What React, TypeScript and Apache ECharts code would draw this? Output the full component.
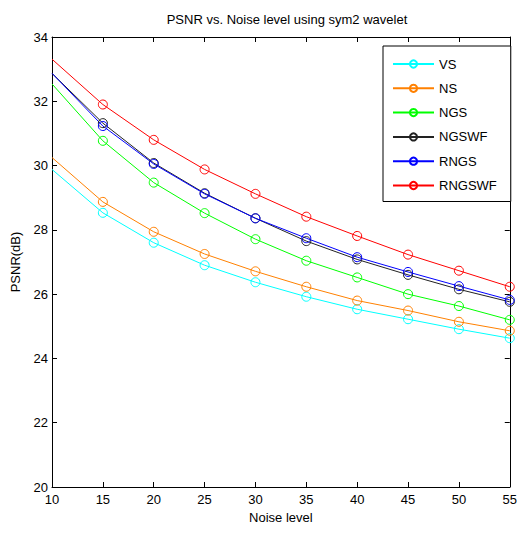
import React, { useEffect, useRef } from "react";
import * as echarts from "echarts";

const noiseLevels = [10, 15, 20, 25, 30, 35, 40, 45, 50, 55];
const seriesNames = ["VS", "NS", "NGS", "NGSWF", "RNGS", "RNGSWF"];
const vsValues = [29.88, 28.53, 27.6, 26.9, 26.37, 25.92, 25.53, 25.22, 24.91, 24.63];
const nsValues = [30.25, 28.87, 27.94, 27.25, 26.71, 26.23, 25.8, 25.49, 25.14, 24.86];
const ngsValues = [32.54, 30.77, 29.47, 28.52, 27.71, 27.04, 26.52, 26.0, 25.63, 25.2];
const ngswfValues = [32.87, 31.32, 30.08, 29.14, 28.36, 27.65, 27.08, 26.6, 26.15, 25.76];
const rngsValues = [32.87, 31.23, 30.05, 29.12, 28.36, 27.74, 27.15, 26.69, 26.25, 25.82];
const rngswfValues = [33.31, 31.9, 30.8, 29.88, 29.12, 28.41, 27.81, 27.23, 26.73, 26.23];
const seriesColors = ["#00ffff", "#ff8000", "#00ff00", "#222222", "#0000ff", "#ff0000"];
const xTicks = { min: 10, max: 55, interval: 5 };
const yTicks = { min: 20, max: 34, interval: 2 };

const allValues = [vsValues, nsValues, ngsValues, ngswfValues, rngsValues, rngswfValues];
const FONT = "'Liberation Sans Narrow', 'Liberation Sans', Arial, sans-serif";

export default function App() {
  const ref = useRef<HTMLDivElement>(null);
  useEffect(() => {
    if (!ref.current) return;
    const chart = echarts.init(ref.current, null, { renderer: "svg" });
    const axisCommon = {
      axisLine: { show: true, lineStyle: { color: "#000", width: 1 } },
      axisTick: { show: true, inside: true, length: 5, lineStyle: { color: "#000" } },
      splitLine: { show: false },
    };
    chart.setOption({
      animation: false,
      backgroundColor: "#fff",
      textStyle: { fontFamily: FONT },
      title: {
        text: "PSNR vs. Noise level using sym2 wavelet",
        left: 282,
        textAlign: "center",
        top: 8,
        textStyle: { fontSize: 13, fontWeight: "normal", color: "#000", fontFamily: FONT },
      },
      grid: { left: 52, right: 8, top: 37, bottom: 47, show: false },
      legend: {
        orient: "vertical",
        left: 383,
        top: 46,
        padding: [11, 14, 9, 9],
        itemGap: 10.3,
        itemWidth: 41,
        itemHeight: 9,
        borderColor: "#000",
        borderWidth: 1,
        backgroundColor: "#fff",
        data: seriesNames,
        textStyle: { fontSize: 13, color: "#000", fontFamily: FONT, lineHeight: 14 },
      },
      xAxis: [
        {
          type: "value",
          ...xTicks,
          position: "bottom",
          ...axisCommon,
          name: "Noise level",
          nameLocation: "middle",
          nameGap: 24,
          nameTextStyle: { fontSize: 13, color: "#000", fontFamily: FONT },
          axisLabel: { color: "#000", fontSize: 13, margin: 6, fontFamily: FONT },
        },
        {
          type: "value",
          ...xTicks,
          position: "top",
          ...axisCommon,
          axisLabel: { show: false },
        },
      ],
      yAxis: [
        {
          type: "value",
          ...yTicks,
          position: "left",
          ...axisCommon,
          name: "PSNR(dB)",
          nameLocation: "middle",
          nameGap: 30,
          nameRotate: 90,
          nameTextStyle: { fontSize: 13, color: "#000", fontFamily: FONT },
          axisLabel: { color: "#000", fontSize: 13, margin: 4, fontFamily: FONT },
        },
        {
          type: "value",
          ...yTicks,
          position: "right",
          ...axisCommon,
          axisLabel: { show: false },
        },
      ],
      series: seriesNames.map((name, i) => ({
        name,
        type: "line",
        xAxisIndex: 0,
        yAxisIndex: 0,
        symbol: "circle",
        symbolSize: 9,
        lineStyle: { width: 1, color: seriesColors[i] },
        itemStyle: { color: "rgba(255,255,255,0)", borderColor: seriesColors[i], borderWidth: 1 },
        data: noiseLevels.map((x, j) =>
          j === 0 ? { value: [x, allValues[i][j]], symbol: "none" } : { value: [x, allValues[i][j]] }
        ),
      })),
    });
    return () => chart.dispose();
  }, []);
  return (
    <div
      ref={ref}
      style={{ position: "absolute", left: 0, top: 0, width: 520, height: 534 }}
    />
  );
}
